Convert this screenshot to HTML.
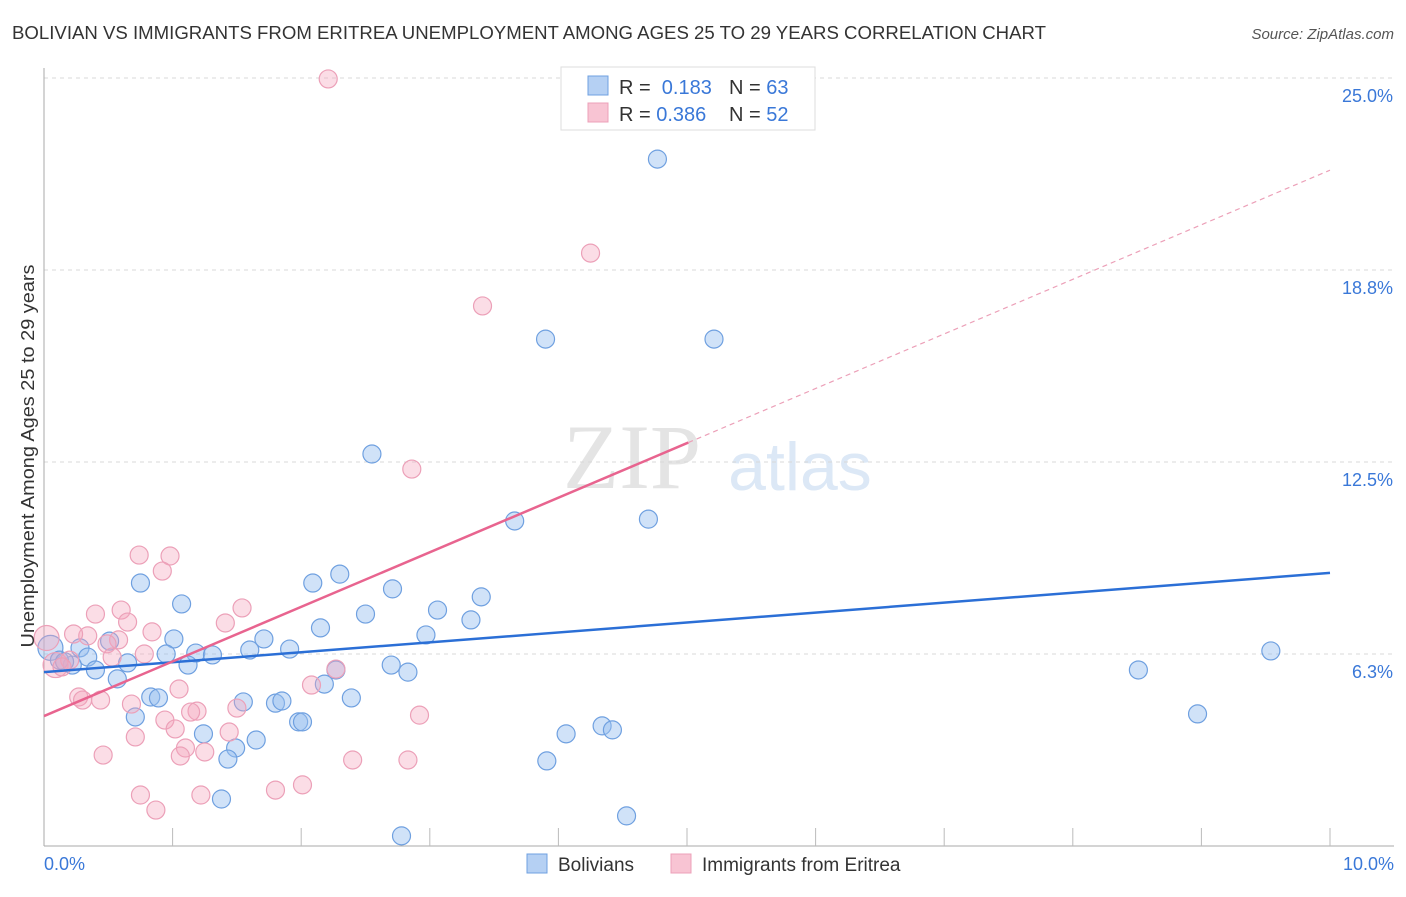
<!DOCTYPE html>
<html><head><meta charset="utf-8"><style>
body{margin:0;background:#fff;font-family:"Liberation Sans",sans-serif;}
</style></head><body>
<svg width="1406" height="892" xmlns="http://www.w3.org/2000/svg">
<text x="12" y="39" font-size="18" fill="#333" textLength="1034" lengthAdjust="spacingAndGlyphs">BOLIVIAN VS IMMIGRANTS FROM ERITREA UNEMPLOYMENT AMONG AGES 25 TO 29 YEARS CORRELATION CHART</text>
<text x="1394" y="39" font-size="15" fill="#555" font-style="italic" text-anchor="end">Source: ZipAtlas.com</text>
<text x="632" y="488" font-size="92" fill="#e4e4e4" text-anchor="middle" font-family="Liberation Serif,serif">ZIP</text>
<text x="800" y="490" font-size="68" fill="#dce8f6" text-anchor="middle">atlas</text>
<g id="grid"></g><g id="axes"></g><g id="pts"></g><g id="lines"></g>
<text x="34" y="456" font-size="18.5" fill="#333" text-anchor="middle" transform="rotate(-90 34 456)" textLength="383" lengthAdjust="spacingAndGlyphs">Unemployment Among Ages 25 to 29 years</text>
<text x="44" y="870" font-size="18" fill="#3a78d8">0.0%</text>
<text x="1394" y="870" font-size="18" fill="#3a78d8" text-anchor="end">10.0%</text>
<g>
<rect x="561" y="67" width="254" height="63" fill="#fff" stroke="#ddd"/>
<rect x="588" y="76" width="20" height="19" fill="#b5d0f3" stroke="#6fa0e0"/>
<rect x="588" y="103" width="20" height="19" fill="#f8c4d3" stroke="#eca0b8"/>
<text x="619" y="94" font-size="20" fill="#333">R = <tspan fill="#3a78d8">&#160;0.183</tspan><tspan x="729">N = </tspan><tspan fill="#3a78d8">63</tspan></text>
<text x="619" y="121" font-size="20" fill="#333">R = <tspan fill="#3a78d8">0.386</tspan><tspan x="729">N = </tspan><tspan fill="#3a78d8">52</tspan></text>
</g>
<g>
<rect x="527" y="854" width="20" height="19" fill="#b5d0f3" stroke="#6fa0e0"/>
<text x="558" y="871" font-size="19" fill="#333">Bolivians</text>
<rect x="671" y="854" width="20" height="19" fill="#f8c4d3" stroke="#eca0b8"/>
<text x="702" y="871" font-size="19" fill="#333">Immigrants from Eritrea</text>
</g>
</svg>
<script>
const yTicks=[6.25,12.5,18.75,25];
const yTickLabels=["6.3%","12.5%","18.8%","25.0%"];
const xTicks=[1,2,3,4,5,6,7,8,9,10];
const bolX=[4.77,3.90,5.21,2.55,3.66,4.70,0.75,2.09,2.30,2.71,3.40,1.07,2.50,3.06,3.32,2.15,2.97,1.01,1.71,0.51,0.28,1.60,1.91,1.18,1.31,0.95,0.34,0.65,1.12,0.22,0.40,2.70,2.83,2.27,0.57,2.18,0.83,0.89,2.39,1.55,1.80,1.85,0.71,1.98,2.01,4.34,4.42,4.06,1.24,1.65,1.49,1.43,3.91,1.38,4.53,2.78,8.51,8.97,9.54,0.05,0.12,0.16];
const bolY=[22.36,16.50,16.50,12.76,10.58,10.64,8.56,8.56,8.85,8.37,8.11,7.88,7.55,7.68,7.36,7.10,6.87,6.74,6.74,6.67,6.45,6.38,6.41,6.28,6.22,6.25,6.15,5.96,5.89,5.89,5.73,5.89,5.66,5.73,5.44,5.27,4.85,4.82,4.82,4.69,4.65,4.72,4.20,4.04,4.04,3.91,3.78,3.65,3.65,3.45,3.19,2.83,2.77,1.53,0.98,0.33,5.73,4.30,6.35,6.45,6.05,6.0];
const eriX=[2.21,4.25,3.41,2.86,0.74,0.98,0.92,0.40,0.60,1.54,0.65,1.41,0.84,0.34,0.23,0.58,0.49,0.78,0.53,0.02,0.09,0.20,0.14,2.27,2.08,1.05,0.27,0.30,0.44,0.68,1.50,1.19,1.14,2.92,0.94,1.02,1.44,0.71,1.10,1.25,1.06,0.46,2.40,2.83,2.01,1.80,1.22,0.75,0.87];
const eriY=[24.97,19.30,17.58,12.27,9.47,9.44,8.95,7.55,7.68,7.75,7.29,7.26,6.97,6.84,6.90,6.71,6.58,6.25,6.15,6.77,5.89,6.05,5.83,5.76,5.24,5.11,4.85,4.75,4.75,4.62,4.49,4.39,4.36,4.26,4.10,3.81,3.71,3.55,3.19,3.06,2.93,2.96,2.80,2.80,1.99,1.82,1.66,1.66,1.17];
const bolTrend=[5.66,8.89];
const eriTrend=[4.23,22.0];
const NS="http://www.w3.org/2000/svg";
const X=v=>44+v*128.6, Y=v=>846-v*30.72;
function mk(t,a,p){const e=document.createElementNS(NS,t);for(const k in a)e.setAttribute(k,a[k]);p.appendChild(e);return e;}
const grid=document.getElementById('grid'),axes=document.getElementById('axes'),pts=document.getElementById('pts'),lines=document.getElementById('lines');
yTicks.forEach((v,i)=>{
 const l=mk('line',{x1:44,x2:1394,y1:Y(v),y2:Y(v),stroke:'#d8d8d8','stroke-dasharray':'4,4'},grid);
 
 
 const t=mk('text',{x:1393,y:Y(v)+24,'font-size':18,fill:'#3a78d8','text-anchor':'end'},grid);
 t.textContent=yTickLabels[i];
 
 
});
const ya=mk('line',{x1:44,x2:44,y1:68,y2:846,stroke:'#aaa'},axes);


const xa=mk('line',{x1:44,x2:1394,y1:846,y2:846,stroke:'#aaa'},axes);


xTicks.forEach(v=>{
 const t=mk('line',{x1:X(v),x2:X(v),y1:828,y2:846,stroke:'#bbb'},axes);
 
 
});
function dots(xs,ys,fill,stroke,name){xs.forEach((x,i)=>{
 const c=mk('circle',{cx:X(x),cy:Y(ys[i]),r:(x<0.1?12.5:9),fill:fill,stroke:stroke,'stroke-width':1.2},pts);
 
 
});}
dots(bolX,bolY,'rgba(150,190,240,0.45)','#6fa0e0','bolivian-point');
dots(eriX,eriY,'rgba(244,165,190,0.38)','#eca0b8','eritrea-point');
const b=mk('line',{x1:X(0),y1:Y(bolTrend[0]),x2:X(10),y2:Y(bolTrend[1]),stroke:'#2b6fd6','stroke-width':2.5},lines);


const xm=5.01,ym=eriTrend[0]+(eriTrend[1]-eriTrend[0])*xm/10;
const e1=mk('line',{x1:X(0),y1:Y(eriTrend[0]),x2:X(xm),y2:Y(ym),stroke:'#e8648f','stroke-width':2.5},lines);


const e2=mk('line',{x1:X(xm),y1:Y(ym),x2:X(10),y2:Y(eriTrend[1]),stroke:'#eca0b8','stroke-width':1.2,'stroke-dasharray':'5,4'},lines);


</script>
</body></html>
